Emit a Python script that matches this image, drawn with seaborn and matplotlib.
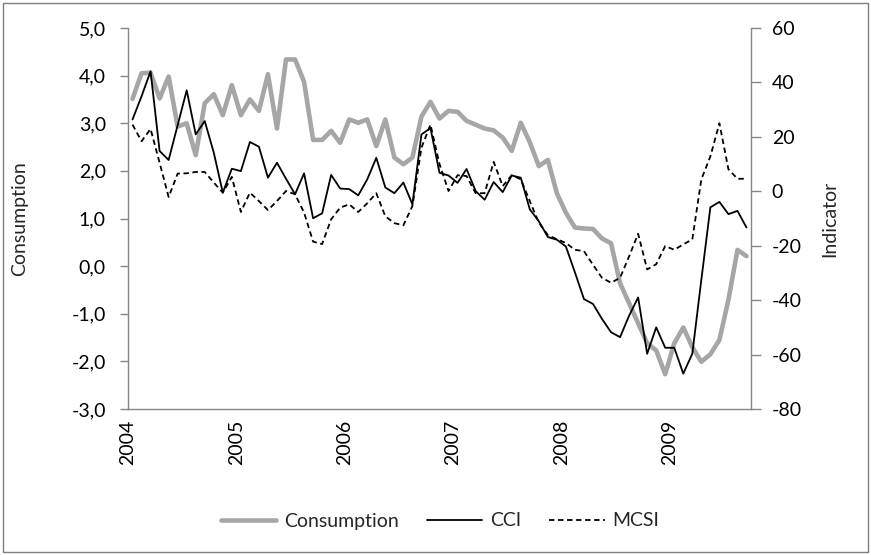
import numpy as np
import pandas as pd
import matplotlib.pyplot as plt
import seaborn as sns
from matplotlib.lines import Line2D
from matplotlib.patches import Rectangle
from matplotlib.ticker import FuncFormatter

# monthly data, Jan 2004 - Sep 2009
consumption = [3.51, 4.05, 4.06, 3.52, 3.98, 2.93, 3.00, 2.33, 3.42, 3.61, 3.17, 3.80,
               3.17, 3.50, 3.26, 4.03, 2.89, 4.34, 4.34, 3.87, 2.65, 2.65, 2.84, 2.59,
               3.08, 3.01, 3.08, 2.52, 3.08, 2.28, 2.14, 2.28, 3.14, 3.45, 3.10, 3.26,
               3.24, 3.05, 2.97, 2.89, 2.85, 2.70, 2.42, 3.01, 2.60, 2.10, 2.23, 1.53,
               1.12, 0.81, 0.79, 0.78, 0.58, 0.48, -0.36, -0.78, -1.20, -1.62, -1.77, -2.27,
               -1.62, -1.29, -1.70, -2.01, -1.85, -1.55, -0.71, 0.34, 0.21]
cci = [26.4, 34.9, 44.1, 14.8, 11.5, 24.3, 37.1, 20.9, 25.8, 14.2, -0.5, 8.3,
       7.4, 18.1, 16.4, 5.0, 10.5, 4.6, -1.1, 6.6, -9.9, -8.1, 6.0, 1.0,
       0.8, -1.5, 4.4, 12.3, 1.4, -0.7, 3.2, -4.8, 20.9, 23.2, 6.8, 5.8,
       3.1, 8.2, 0.1, -3.1, 3.4, -0.3, 5.8, 5.0, -6.6, -11.0, -16.8, -17.8,
       -20.3, -29.8, -39.6, -41.4, -46.9, -51.8, -53.6, -45.7, -39.0, -59.7, -50.0, -57.5,
       -57.5, -67.0, -59.7, -32.5, -5.9, -3.9, -8.4, -7.2, -13.3]
mcsi = [24.5, 18.4, 22.9, 10.5, -2.1, 6.5, 6.6, 7.1, 7.1, 3.2, -0.5, 5.3,
        -7.6, -0.5, -3.6, -6.9, -3.6, 0.1, -1.1, -7.8, -18.5, -19.4, -10.3, -6.0,
        -4.8, -7.6, -4.4, -0.7, -9.2, -11.7, -12.5, -5.4, 16.0, 24.5, 10.0, 0.1,
        5.9, 5.6, -0.7, -0.7, 10.8, 1.9, 5.9, 4.4, -3.6, -11.5, -16.1, -17.6,
        -19.0, -21.5, -22.0, -27.0, -31.8, -33.6, -31.8, -23.9, -15.6, -28.7, -26.8, -20.1,
        -21.5, -19.5, -17.7, 4.4, 12.8, 25.0, 8.1, 4.6, 4.6]
years = ["2004", "2005", "2006", "2007", "2008", "2009"]

df = pd.DataFrame({"month": np.arange(len(consumption)),
                   "Consumption": consumption, "CCI": cci, "MCSI": mcsi})

sns.set_style("white")
plt.rcParams["font.family"] = ["Lato", "DejaVu Sans"]
plt.rcParams["axes.unicode_minus"] = False

grey = "#a6a6a6"
axcol = "#868686"
fs = 14

fig = plt.figure(figsize=(8.71, 5.55), dpi=100)
ax = fig.add_axes([128 / 871, 1 - 409 / 555, 623 / 871, 381 / 555])
ax2 = ax.twinx()

sns.lineplot(data=df, x="month", y="Consumption", ax=ax, color=grey, linewidth=3.3)
sns.lineplot(data=df, x="month", y="CCI", ax=ax2, color="black", linewidth=1.3)
sns.lineplot(data=df, x="month", y="MCSI", ax=ax2, color="black", linewidth=1.3,
             linestyle=(0, (3, 2)))

ax.set_xlim(-0.5, len(consumption) - 0.5)
ax.set_ylim(-3, 5)
ax2.set_ylim(-80, 60)
ax.set_yticks(np.arange(-3, 6, 1))
ax2.set_yticks(np.arange(-80, 61, 20))
ax.yaxis.set_major_formatter(FuncFormatter(lambda v, p: f"{v:.1f}".replace(".", ",")))

xt = [-0.5 + 12 * i for i in range(len(years))]
ax.set_xticks(xt)
ax.set_xticklabels(years, rotation=90)

for a in (ax, ax2):
    for s in a.spines.values():
        s.set_color(axcol)
        s.set_linewidth(1.0)
    a.spines["top"].set_visible(False)
    a.tick_params(colors=axcol, labelcolor="#000000", labelsize=fs,
                  width=1.0, direction="out")
    a.grid(False)
ax.spines["right"].set_visible(False)
ax2.spines["left"].set_visible(False)
ax2.spines["bottom"].set_visible(False)
ax.tick_params(axis="x", length=6, pad=2)
ax.tick_params(axis="y", length=6, pad=10)
ax2.tick_params(axis="y", length=7, pad=8)

ax.set_xlabel("")
ax.set_ylabel("Consumption", fontsize=fs)
ax2.set_ylabel("Indicator", fontsize=fs)
ax.yaxis.set_label_coords(-0.16, 0.5)
ax2.yaxis.set_label_coords(1.112, 0.5)

handles = [Line2D([], [], color=grey, linewidth=3.3),
           Line2D([], [], color="black", linewidth=1.3),
           Line2D([], [], color="black", linewidth=1.3, linestyle=(0, (3, 2)))]
fig.legend(handles, ["Consumption", "CCI", "MCSI"], loc="center",
           bbox_to_anchor=(440 / 871, 1 - 521 / 555), ncol=3, frameon=False,
           fontsize=fs, handlelength=2.85, handletextpad=0.4, columnspacing=1.45)

fig.patches.append(Rectangle((3 / 871, 3 / 555), 865 / 871, 549 / 555,
                             transform=fig.transFigure, fill=False,
                             edgecolor="#7f7f7f", linewidth=1.0))

fig.savefig("out.png", dpi=100)
